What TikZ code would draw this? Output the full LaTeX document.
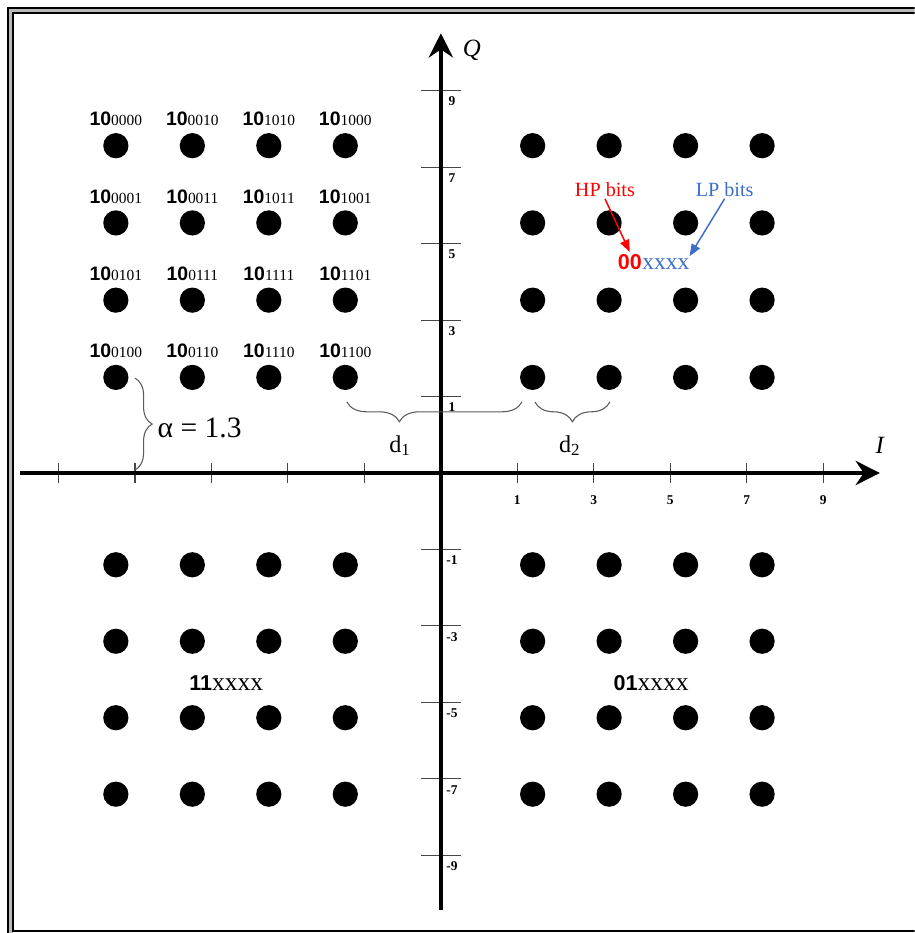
\documentclass[tikz,border=0pt]{standalone}
\usepackage{fontspec}
\setmainfont{Liberation Serif}
\setsansfont{Liberation Sans}
\usepackage{xcolor}
\usepackage{tikz}
\usetikzlibrary{arrows.meta,positioning,calc,decorations.pathreplacing}
\definecolor{hpred}{RGB}{255,0,0}
\definecolor{lpblue}{RGB}{60,110,200}
\definecolor{tickgray}{RGB}{70,70,70}
\definecolor{bracegray}{RGB}{90,90,90}
\definecolor{framegray}{RGB}{185,185,185}
\newcommand{\bitcode}[4]{{\fontsize{#1}{#1}\selectfont\sffamily\bfseries #3}{\fontsize{#2}{#2}\selectfont #4}}

\begin{document}
\begin{tikzpicture}[x=1cm,y=1cm,>=Stealth,
    symb/.style={circle,fill=black,inner sep=0pt,minimum size=0.66cm},
    axisline/.style={line width=3.3pt,-{Stealth[length=18pt,width=18pt,inset=6pt]}},
    tickmark/.style={tickgray,line width=0.8pt},
    ticklab/.style={font=\fontsize{10}{10}\selectfont\bfseries,inner sep=0pt},
    bits/.style={anchor=base,inner sep=0pt},
    bracemark/.style={bracegray,line width=0.8pt,decorate},
    hint/.style={line width=1.1pt,-{Triangle[length=9pt,width=7pt]}}]

    % Frame
    \useasboundingbox (-11.53,-12.03) rectangle (12.39,12.37);
    \clip (-11.53,-12.03) rectangle (12.39,12.37);
    \draw[framegray,line width=4pt] (-11.25,12.09) rectangle (13,-13);
    \draw[line width=1.5pt] (-11.31,12.15) rectangle (13,-13);
    \draw[line width=1.5pt] (-11.18,12.02) rectangle (13,-11.99);

    % Ticks and tick labels
    \foreach \k/\lab in {2/1,4/3,6/5,8/7,10/9} {
        \draw[tickmark] (\k,-0.26) -- (\k,0.26);
        \draw[tickmark] (-\k,-0.26) -- (-\k,0.26);
        \draw[tickmark] (-0.52,\k) -- (0.52,\k);
        \draw[tickmark] (-0.52,-\k) -- (0.52,-\k);
        \node[ticklab] (ix\lab) at (\k,-0.71) {\lab};
        \node[ticklab] (qy\lab) at (0.29,\k-0.28) {\lab};
        \node[ticklab] (qyn\lab) at (0.29,-\k-0.28) {-\lab};
    }

    % Axes
    \coordinate (istart) at (-11.0,0);
    \coordinate (iend) at (11.48,0);
    \coordinate (qstart) at (0,-11.42);
    \coordinate (qend) at (0,11.5);
    \draw[axisline] (istart) -- (iend);
    \draw[axisline] (qstart) -- (qend);
    \node[font=\fontsize{18.5}{18.5}\selectfont\itshape] (qlab) at (0.81,11.06) {Q};
    \node[font=\fontsize{18.5}{18.5}\selectfont\itshape] (ilab) at (11.48,0.71) {I};

    % Constellation points
    \foreach \x [count=\i] in {-8.5,-6.5,-4.5,-2.5} {
        \foreach \y [count=\j] in {2.5,4.52,6.54,8.56}
            \node[symb] (ul\i\j) at (\x,\y) {};
        \foreach \y [count=\j] in {-2.4,-4.4,-6.4,-8.4}
            \node[symb] (ll\i\j) at (\x,\y) {};
    }
    \foreach \x [count=\i] in {2.4,4.4,6.4,8.4} {
        \foreach \y [count=\j] in {2.5,4.52,6.54,8.56}
            \node[symb] (ur\i\j) at (\x,\y) {};
        \foreach \y [count=\j] in {-2.4,-4.4,-6.4,-8.4}
            \node[symb] (lr\i\j) at (\x,\y) {};
    }

    % Bit labels of the 10xxxx quadrant
    \foreach \y/\a/\b/\c/\d in {8.56/0000/0010/1010/1000,6.54/0001/0011/1011/1001,
                                4.52/0101/0111/1111/1101,2.5/0100/0110/1110/1100} {
        \node[bits] (c\a) at (-8.5,\y+0.52) {\bitcode{14.5}{11.5}{10}{\a}};
        \node[bits] (c\b) at (-6.5,\y+0.52) {\bitcode{14.5}{11.5}{10}{\b}};
        \node[bits] (c\c) at (-4.5,\y+0.52) {\bitcode{14.5}{11.5}{10}{\c}};
        \node[bits] (c\d) at (-2.5,\y+0.52) {\bitcode{14.5}{11.5}{10}{\d}};
    }
    \node[bits] (code11) at (-5.61,-5.70) {\bitcode{16}{19}{11}{xxxx}};
    \node[bits] (code01) at (5.50,-5.70) {\bitcode{16}{19}{01}{xxxx}};

    % HP and LP bits
    \node[hpred,inner sep=1pt,font=\fontsize{15}{15}\selectfont] (hp) at (4.29,7.40) {HP bits};
    \node[lpblue,inner sep=1pt,font=\fontsize{15}{15}\selectfont] (lp) at (7.42,7.40) {LP bits};
    \node[hpred,anchor=base,inner xsep=0pt,inner ysep=2pt,font=\fontsize{16}{16}\selectfont\sffamily\bfseries] (hpcode) at (4.94,5.31) {00};
    \node[lpblue,anchor=base west,inner xsep=0pt,inner ysep=2pt,font=\fontsize{17.5}{17.5}\selectfont] (lpcode) at (hpcode.base east) {xxxx};
    \draw[hint,hpred] (hp.south) -- (hpcode.north);
    \draw[hint,lpblue] (lp.south) -- (lpcode.north east);

    % Braces
    \coordinate (atop) at (-8.0,2.48);
    \coordinate (abot) at (-8.0,0.08);
    \draw[bracemark,decoration={brace,amplitude=0.45cm}] (atop) -- (abot);
    \node[anchor=west,font=\fontsize{22}{22}\selectfont] (alpha) at (-7.53,1.18) {α = 1.3};

    \coordinate (d1l) at (-2.46,1.86);
    \coordinate (d1r) at (2.12,1.86);
    \draw[bracemark,decoration={brace,mirror,amplitude=0.52cm,aspect=0.3}] (d1l) -- (d1r);
    \node[font=\fontsize{18}{18}\selectfont] (dlab1) at (-1.07,0.71) {d\textsubscript{1}};

    \coordinate (d2l) at (2.46,1.86);
    \coordinate (d2r) at (4.42,1.86);
    \draw[bracemark,decoration={brace,mirror,amplitude=0.52cm}] (d2l) -- (d2r);
    \node[font=\fontsize{18}{18}\selectfont] (dlab2) at (3.37,0.71) {d\textsubscript{2}};

\end{tikzpicture}
\end{document}
